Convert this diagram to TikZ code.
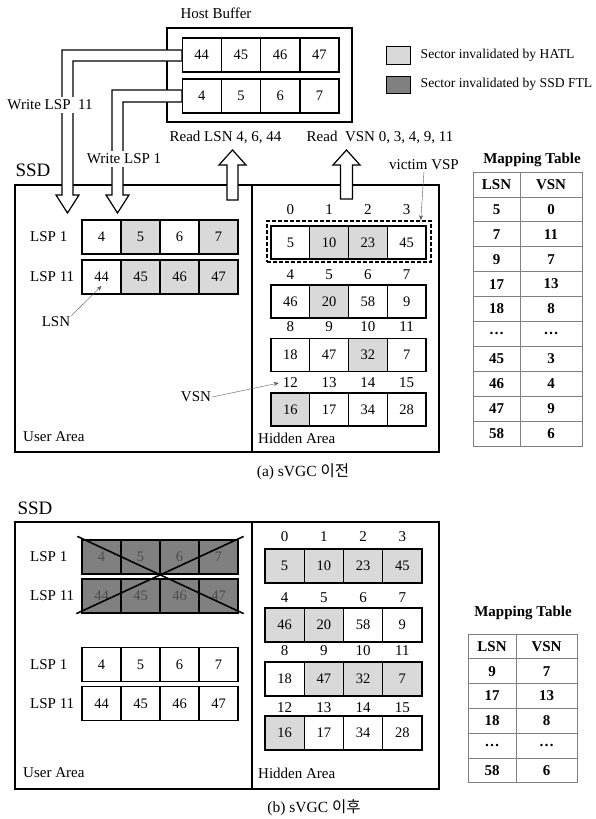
\documentclass[tikz,border=0pt]{standalone}
\usepackage{fontspec}
\setmainfont{Liberation Serif}
\newfontfamily\krfont{Noto Sans CJK KR}
\usetikzlibrary{arrows.meta,positioning}

\definecolor{hatl}{RGB}{217,217,217}
\definecolor{ftl}{RGB}{128,128,128}

\tikzset{
  cell/.style={draw,line width=1.2pt,minimum width=39pt,minimum height=34pt,inner sep=0pt,font=\fontsize{14.5}{16}\selectfont},
  txt/.style={inner sep=1pt,font=\fontsize{15}{17}\selectfont},
  bigtxt/.style={inner sep=1pt,font=\fontsize{19}{21}\selectfont},
  legtxt/.style={inner sep=0pt,font=\fontsize{13.6}{15}\selectfont},
  ttl/.style={inner sep=1pt,font=\fontsize{15}{17}\selectfont\bfseries},
  pipe/.style={draw,fill=white,line width=1.2pt,line join=miter},
  area/.style={draw,line width=1.2pt},
  tcell/.style={draw=gray,line width=0.8pt,inner sep=0pt,font=\fontsize{15}{17}\selectfont\bfseries},
  note/.style={gray!70!black,-{Stealth[length=5pt,width=4pt]}},
}

\begin{document}
\begin{tikzpicture}[x=1pt,y=-1pt,>=Stealth]
\useasboundingbox (0,0) rectangle (595,819);
% host buffer
\node[txt] (hostlbl) at (216,13) {Host Buffer};
\draw[area] (167,28) rectangle (352,122);
\foreach \v [count=\i] in {44,45,46,47}
  \node[cell] (buf1\i) at ({162.4+39.25*\i},55) {\v};
\foreach \v [count=\i] in {4,5,6,7}
  \node[cell] (buf2\i) at ({162.4+39.25*\i},96) {\v};
% legend
\node[draw,line width=1pt,fill=hatl,minimum width=24pt,minimum height=18pt] (leg1) at (398,55) {};
\node[draw,line width=1pt,fill=ftl,minimum width=24pt,minimum height=17pt] (leg2) at (398,84.5) {};
\node[legtxt,right=10pt of leg1] (leg1txt) {Sector invalidated by HATL};
\node[legtxt,right=10pt of leg2] (leg2txt) {Sector invalidated by SSD FTL};

% ---- (a) before sVGC
\node[bigtxt] (ssda) at (33,170) {SSD};
\draw[area] (15,185) rectangle (439,452);
\draw[area] (252,185) -- (252,452);
\node[txt,anchor=west] (lspa1) at (29,237) {LSP 1};
\node[txt,anchor=west] (lspa2) at (29,277) {LSP 11};
\foreach \v/\f [count=\i] in {4/white,5/hatl,6/white,7/hatl}
  \node[cell,fill=\f] (ua1\i) at ({62.5+39*\i},237) {\v};
\foreach \v/\f [count=\i] in {44/white,45/hatl,46/hatl,47/hatl}
  \node[cell,fill=\f] (ua2\i) at ({62.5+39*\i},277) {\v};
\foreach \r/\y/\ly/\vals in {0/242.5/210/{5/white,10/hatl,23/hatl,45/white},
    1/301.5/275/{46/white,20/hatl,58/white,9/white},
    2/355/327/{18/white,47/white,32/hatl,7/white},
    3/409.5/383/{16/hatl,17/white,34/white,28/white}}
  \foreach \v/\f [count=\c from 0] in \vals {
    \pgfmathtruncatemacro\k{4*\r+\c}
    \node[cell,fill=\f,minimum width=38.75pt,minimum height=33pt] (ha\k) at ({290.4+38.75*\c},\y) {\v};
    \node[txt] (hal\k) at ({290.4+38.75*\c},\ly) {\k};
  }
\node[draw,line width=1.5pt,dash pattern=on 4pt off 2pt,minimum width=164pt,minimum height=41pt] (vsp) at (349,241.5) {};
\node[txt] (victim) at (424,165) {victim VSP};
\draw[note] (victim.south) -- ([xshift=-11pt]vsp.north east);
\node[txt] (lsn) at (56,322) {LSN};
\draw[note] (lsn.north east) -- ([yshift=-9pt]ua21.center);
\node[txt] (vsn) at (196,397) {VSN};
\draw[note] (vsn.east) -- ([xshift=-3pt]hal12.west);
\node[txt,anchor=west] (uaa) at (22,437) {User Area};
\node[txt,anchor=west] (haa) at (257,438) {Hidden Area};
% write / read arrows
\draw[pipe] (182,50) -- (62,50) -- (62,195) -- (56,195) -- (67.5,213) -- (79,195) -- (73,195) -- (73,61) -- (182,61) -- cycle;
\draw[pipe] (182,90) -- (112,90) -- (112,195) -- (106,195) -- (117.5,213) -- (129,195) -- (123,195) -- (123,102) -- (182,102) -- cycle;
\node[txt,fill=white,inner sep=3pt] (wr11) at (50,105) {Write LSP\ \ 11};
\node[txt,fill=white,inner sep=3pt] (wr1) at (124,159) {Write LSP 1};
\draw[pipe] (227,200) -- (227,165) -- (219,165) -- (232.5,150) -- (246,165) -- (238,165) -- (238,200) -- cycle;
\draw[pipe] (340.5,199) -- (340.5,165) -- (333,165) -- (346.5,150) -- (360,165) -- (352.5,165) -- (352.5,199) -- cycle;
\node[txt] (rdlsn) at (225.5,137) {Read LSN 4, 6, 44};
\node[txt] (rdvsn) at (380,137) {Read\ \ VSN 0, 3, 4, 9, 11};
% mapping table (a)
\node[ttl] (mapa) at (532,160) {Mapping Table};
\foreach \l/\v [count=\i from 0] in {LSN/VSN,5/0,7/11,9/7,17/13,18/8,\ldots/\ldots,45/3,46/4,47/9,58/6} {
  \node[tcell,minimum width=47pt,minimum height=24.9pt] (tal\i) at (496.5,{184.45+24.9*\i}) {\l};
  \node[tcell,minimum width=62pt,minimum height=24.9pt] (tav\i) at (551,{184.45+24.9*\i}) {\v};
}
\node[txt,font=\fontsize{15.5}{17}\selectfont] (capa) at (303,472) {(a) sVGC {\krfont 이전}};

% ---- (b) after sVGC
\node[bigtxt] (ssdb) at (35,508) {SSD};
\draw[area] (15,522) rectangle (439,789);
\draw[area] (252,522) -- (252,789);
\node[txt,anchor=west] (lspb1) at (29,557) {LSP 1};
\node[txt,anchor=west] (lspb2) at (29,596) {LSP 11};
\node[txt,anchor=west] (lspb3) at (29,664.5) {LSP 1};
\node[txt,anchor=west] (lspb4) at (29,703.5) {LSP 11};
\foreach \v [count=\i] in {4,5,6,7}
  \node[cell,fill=ftl,text=black!70] (ub1\i) at ({62.5+39*\i},557) {\v};
\foreach \v [count=\i] in {44,45,46,47}
  \node[cell,fill=ftl,text=black!70] (ub2\i) at ({62.5+39*\i},596) {\v};
\draw[line width=1.6pt] ([shift={(-4pt,3pt)}]ub11.north west) -- ([shift={(5pt,0pt)}]ub24.south east);
\draw[line width=1.6pt] ([shift={(5pt,3pt)}]ub14.north east) -- ([shift={(-5pt,0pt)}]ub21.south west);
\foreach \v [count=\i] in {4,5,6,7}
  \node[cell] (ub3\i) at ({62.5+39*\i},664.5) {\v};
\foreach \v [count=\i] in {44,45,46,47}
  \node[cell] (ub4\i) at ({62.5+39*\i},703.5) {\v};
\foreach \r/\y/\ly/\vals in {0/566/537/{5/hatl,10/hatl,23/hatl,45/hatl},
    1/625/598/{46/hatl,20/hatl,58/white,9/white},
    2/679/651/{18/white,47/hatl,32/hatl,7/hatl},
    3/733/708/{16/hatl,17/white,34/white,28/white}}
  \foreach \v/\f [count=\c from 0] in \vals {
    \pgfmathtruncatemacro\k{4*\r+\c}
    \node[cell,fill=\f,minimum width=39.25pt] (hb\k) at ({284.6+39.25*\c},\y) {\v};
    \node[txt] (hbl\k) at ({284.6+39.25*\c},\ly) {\k};
  }
\node[txt,anchor=west] (uab) at (22,773) {User Area};
\node[txt,anchor=west] (hab) at (257,773) {Hidden Area};
% mapping table (b)
\node[ttl] (mapb) at (523,613) {Mapping Table};
\foreach \l/\v [count=\i from 0] in {LSN/VSN,9/7,17/13,18/8,\ldots/\ldots,58/6} {
  \node[tcell,minimum width=48pt,minimum height=24.8pt] (tbl\i) at (492,{646.4+24.8*\i}) {\l};
  \node[tcell,minimum width=61pt,minimum height=24.8pt] (tbv\i) at (546.5,{646.4+24.8*\i}) {\v};
}
\node[txt,font=\fontsize{15.5}{17}\selectfont] (capb) at (314,808) {(b) sVGC {\krfont 이후}};
\end{tikzpicture}
\end{document}
